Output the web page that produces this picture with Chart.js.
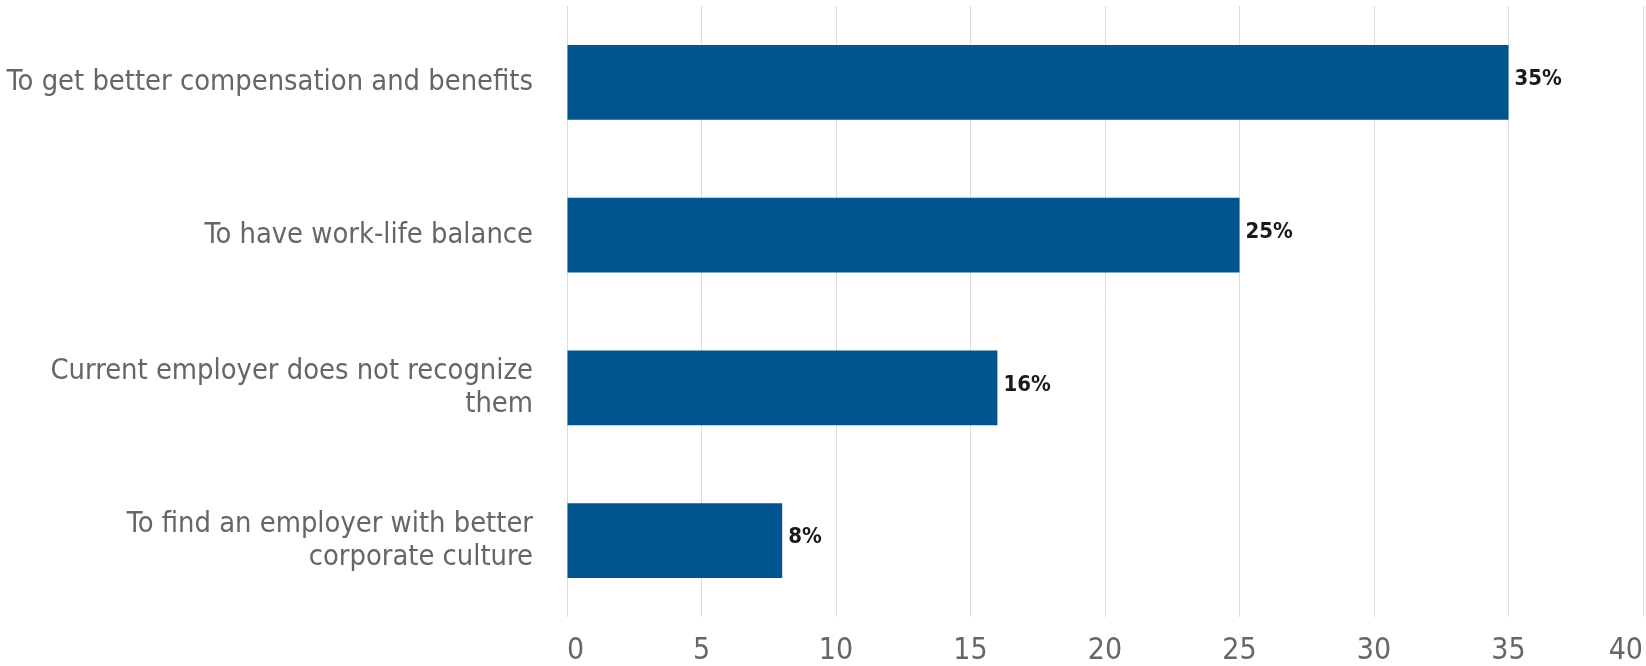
<!DOCTYPE html>
<html>
<head>
<meta charset="utf-8">
<script src="https://cdn.jsdelivr.net/npm/chart.js@4/dist/chart.umd.min.js"></script>
<style>
  html, body { margin: 0; padding: 0; background: #fff; }
  #wrap { width: 1646px; height: 666px; }
</style>
</head>
<body>
<div id="wrap"><canvas id="chart"></canvas></div>
<script>
// chart data
const categories = [
    'To get better compensation and benefits',
    'To have work-life balance',
    ['Current employer does not recognize', 'them'],
    ['To find an employer with better', 'corporate culture']
];
const shares = [35, 25, 16, 8];
const xTicks = [0, 5, 10, 15, 20, 25, 30, 35, 40];

const canvas = document.getElementById('chart');
const ctx = canvas.getContext('2d');

// the original uses a tall condensed face; use the narrow one if it is there
function hasFont(name) {
    const probe = 'abcdefghijklmnopqrstuvwxyz0123456789';
    ctx.font = '40px monospace';
    const base = ctx.measureText(probe).width;
    ctx.font = '40px "' + name + '", monospace';
    return ctx.measureText(probe).width !== base;
}
const narrow = hasFont('Liberation Sans Narrow');
const FONT = narrow ? '"Liberation Sans Narrow", sans-serif' : '"DejaVu Sans Condensed", "Roboto", sans-serif';
const sizes = narrow
    ? { label: 32.5, tick: 36, value: 27, line: 1.02 }
    : { label: 28.8, tick: 30, value: 22, line: 1.15 };

// draws "NN%" just right of each bar end
const valueLabels = {
    id: 'valueLabels',
    afterDatasetsDraw: function (chart) {
        const c = chart.ctx;
        const meta = chart.getDatasetMeta(0);
        c.save();
        c.font = 'bold ' + sizes.value + 'px ' + FONT;
        c.fillStyle = '#1a1a1a';
        c.textAlign = 'left';
        c.textBaseline = 'middle';
        meta.data.forEach(function (bar, i) {
            c.fillText(shares[i] + '%', bar.x + 6, bar.y - 3);
        });
        c.restore();
    }
};

new Chart(ctx, {
    type: 'bar',
    data: {
        labels: categories,
        datasets: [{
            data: shares,
            backgroundColor: '#01558f',
            borderWidth: 0,
            barPercentage: 0.98,
            categoryPercentage: 0.5
        }]
    },
    options: {
        indexAxis: 'y',
        responsive: true,
        maintainAspectRatio: false,
        animation: false,
        layout: { padding: { top: 6, right: 3, bottom: 0, left: 0 } },
        plugins: {
            legend: { display: false },
            tooltip: { enabled: false }
        },
        scales: {
            x: {
                min: 0,
                max: 40,
                afterBuildTicks: function (scale) {
                    scale.ticks = xTicks.map(function (v) { return { value: v }; });
                },
                afterFit: function (scale) {
                    scale.paddingLeft = 0;
                    scale.paddingRight = 0;
                    scale.height = 49;
                },
                grid: { color: '#dcdcdc', lineWidth: 1, drawTicks: false },
                border: { display: false },
                ticks: {
                    align: 'inner',
                    padding: 16,
                    color: '#666',
                    font: { family: FONT, size: sizes.tick }
                }
            },
            y: {
                grid: { display: false },
                border: { display: false },
                afterFit: function (scale) {
                    // fixed label column, no extra space above/below the plot
                    scale.width = 567;
                    scale.paddingTop = 0;
                    scale.paddingBottom = 0;
                },
                ticks: {
                    padding: 26,
                    color: '#666',
                    font: { family: FONT, size: sizes.label, lineHeight: sizes.line }
                }
            }
        }
    },
    plugins: [valueLabels]
});
</script>
</body>
</html>
